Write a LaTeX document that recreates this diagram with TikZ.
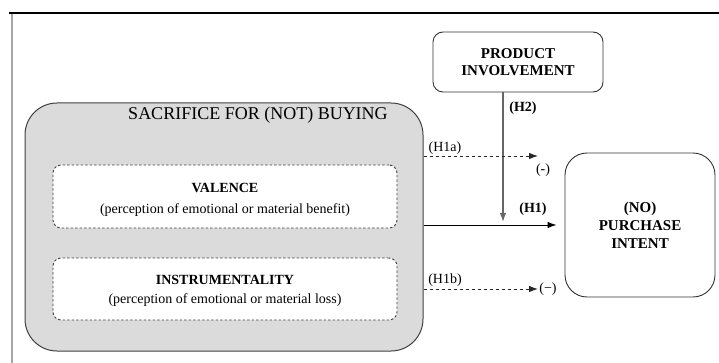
\documentclass[tikz,border=0pt]{standalone}
\usepackage{fontspec}
\setmainfont{Liberation Serif}
\usetikzlibrary{arrows.meta}

\tikzset{
  box/.style={draw=black!80, line width=0.9pt, fill=white, align=center, inner sep=0pt},
  dashbox/.style={draw=black!75, line width=0.9pt, dash pattern=on 2.5pt off 2pt,
    fill=white, rounded corners=8pt, minimum width=344pt, align=center, inner sep=0pt},
  lbl/.style={inner sep=0pt, font=\fontsize{14}{16}\selectfont},
  blbl/.style={inner sep=0pt, font=\fontsize{14}{16}\selectfont\bfseries},
  tip/.style={-{Latex[length=9pt,width=6.5pt]}},
  solidarrow/.style={tip, line width=1pt, black},
  dasharrow/.style={tip, line width=0.9pt, black!85, dash pattern=on 3.5pt off 2.5pt},
}

\begin{document}
\begin{tikzpicture}[x=1pt, y=-1pt]
\useasboundingbox (0,0) rectangle (719,363);

% page frame
\draw[line width=1.6pt, black] (9,13) -- (719,13);
\draw[line width=2pt, black!35] (12,14) -- (12,363);

% sacrifice group
\node[draw=black!75, line width=1pt, fill=black!14, rounded corners=32pt,
      minimum width=398pt, minimum height=248pt] (sac) at (224,227) {};
\node[inner sep=0pt, font=\fontsize{18}{20}\selectfont] (sactitle) at (258,115)
  {SACRIFICE FOR (NOT) BUYING};

\node[dashbox, minimum height=63pt] (val) at (225,196.5) {};
\node[blbl] (valt) at (225,188) {VALENCE};
\node[lbl] (vald) at (225,210) {(perception of emotional or material benefit)};

\node[dashbox, minimum height=62pt] (ins) at (225,289) {};
\node[blbl] (inst) at (225,280) {INSTRUMENTALITY};
\node[lbl] (insd) at (225,300) {(perception of emotional or material loss)};

% moderator
\node[box, rounded corners=10pt, minimum width=170pt, minimum height=60pt,
      font=\fontsize{15}{17}\selectfont\bfseries] (prod) at (518,62)
  {PRODUCT\\INVOLVEMENT};

% outcome
\node[box, rounded corners=22pt, minimum width=150pt, minimum height=144pt,
      font=\fontsize{15}{18}\selectfont\bfseries] (pi) at (640,225)
  {(NO)\\PURCHASE\\INTENT};

% H1
\draw[solidarrow] (sac.east |- pi.west) -- (pi.west) [shorten >=8pt];
\node[blbl] (h1) at (533,209) {(H1)};

% H2
\coordinate (h2end) at (503,222);
\draw[tip, line width=1.3pt, black!60] (prod.south -| h2end) -- (h2end);
\node[blbl] (h2) at (523,108) {(H2)};

% H1a
\coordinate (h1aend) at (538,156);
\draw[dasharrow] (sac.east |- h1aend) -- (h1aend);
\node[lbl] (h1a) at (445,148) {(H1a)};
\node[lbl] (mina) at (543,170) {(-)};

% H1b
\coordinate (h1bend) at (538,289);
\draw[dasharrow] (sac.east |- h1bend) -- (h1bend);
\node[lbl] (h1b) at (445,280) {(H1b)};
\node[lbl] (minb) at (548,289) {(−)};
\end{tikzpicture}
\end{document}
